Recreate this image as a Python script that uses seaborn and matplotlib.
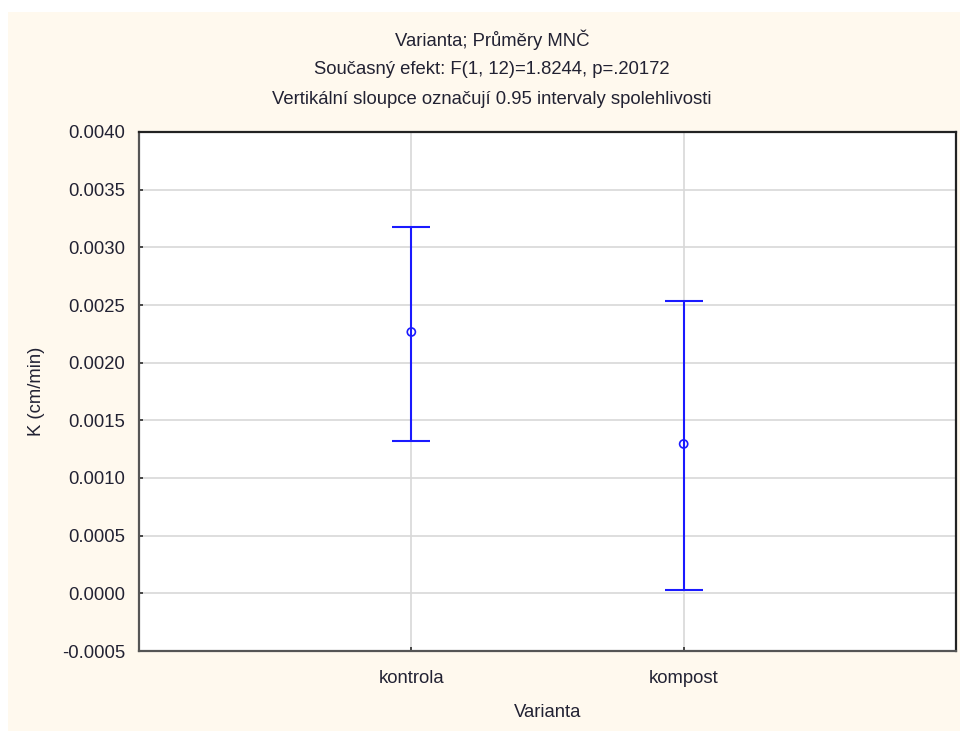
import matplotlib
matplotlib.use("Agg")
import matplotlib.pyplot as plt
import seaborn as sns
import pandas as pd
from matplotlib.patches import Rectangle

# ---- data ----
categories = ["kontrola", "kompost"]
means = [0.002266, 0.001295]
ci_lower = [0.001321, 0.000029]
ci_upper = [0.003176, 0.002535]
yticks = [-0.0005, 0.0, 0.0005, 0.0010, 0.0015, 0.0020, 0.0025, 0.0030, 0.0035, 0.0040]

title_lines = ["Varianta; Průměry MNČ",
               "Současný efekt: F(1, 12)=1.8244, p=.20172",
               "Vertikální sloupce označují 0.95 intervaly spolehlivosti"]

sns.set_theme(style="whitegrid")
plt.rcParams['font.family'] = ['Liberation Sans', 'DejaVu Sans']

df = pd.DataFrame({"Varianta": categories, "K": means,
                   "lo": ci_lower, "hi": ci_upper})

fig = plt.figure(figsize=(9.6, 7.31), dpi=100, facecolor="white")
fig.patches.append(Rectangle((8 / 960, 0), 1 - 8 / 960, 1 - 12 / 731,
                             transform=fig.transFigure, facecolor="#fff9ee",
                             edgecolor="none", zorder=-10))
ax = fig.add_axes([139 / 960, 1 - 651 / 731, (956 - 139) / 960, (651 - 132) / 731])
ax.set_facecolor("white")

blue = "#1a1aff"
sns.scatterplot(data=df, x="Varianta", y="K", ax=ax, marker="o", s=34,
                facecolor="none", edgecolor=blue, linewidth=1.2, zorder=4)
ax.errorbar(df["Varianta"], df["K"],
            yerr=[df["K"] - df["lo"], df["hi"] - df["K"]],
            fmt="none", ecolor=blue, elinewidth=1.5, capsize=14, capthick=1.5, zorder=3)

ax.set_xlim(-1, 2)
ax.set_ylim(-0.0005, 0.0040)
ax.set_yticks(yticks)
ax.set_yticklabels([f"{v:.4f}" for v in yticks])
ax.grid(True, color="#d8d8d8", linewidth=1.2)
ax.tick_params(axis="both", direction="in", length=3, color="#333333",
               labelsize=13.3, labelcolor="#222233", pad=10, left=True, bottom=True)
ax.tick_params(axis="x", pad=14)

for s in ["left", "bottom"]:
    ax.spines[s].set_color("#555555")
    ax.spines[s].set_linewidth(1.6)
for s in ["top", "right"]:
    ax.spines[s].set_color("#222222")
    ax.spines[s].set_linewidth(1.6)

ax.set_xlabel("Varianta", fontsize=13.3, color="#222233", labelpad=12)
ax.set_ylabel("K (cm/min)", fontsize=13.3, color="#222233", labelpad=12)

for i, (t, y) in enumerate(zip(title_lines, [40, 69, 100])):
    fig.text(492 / 960, 1 - y / 731, t, ha="center", va="center",
             fontsize=13.3, color="#222233")

fig.savefig("out.png", dpi=100, facecolor=fig.get_facecolor())
